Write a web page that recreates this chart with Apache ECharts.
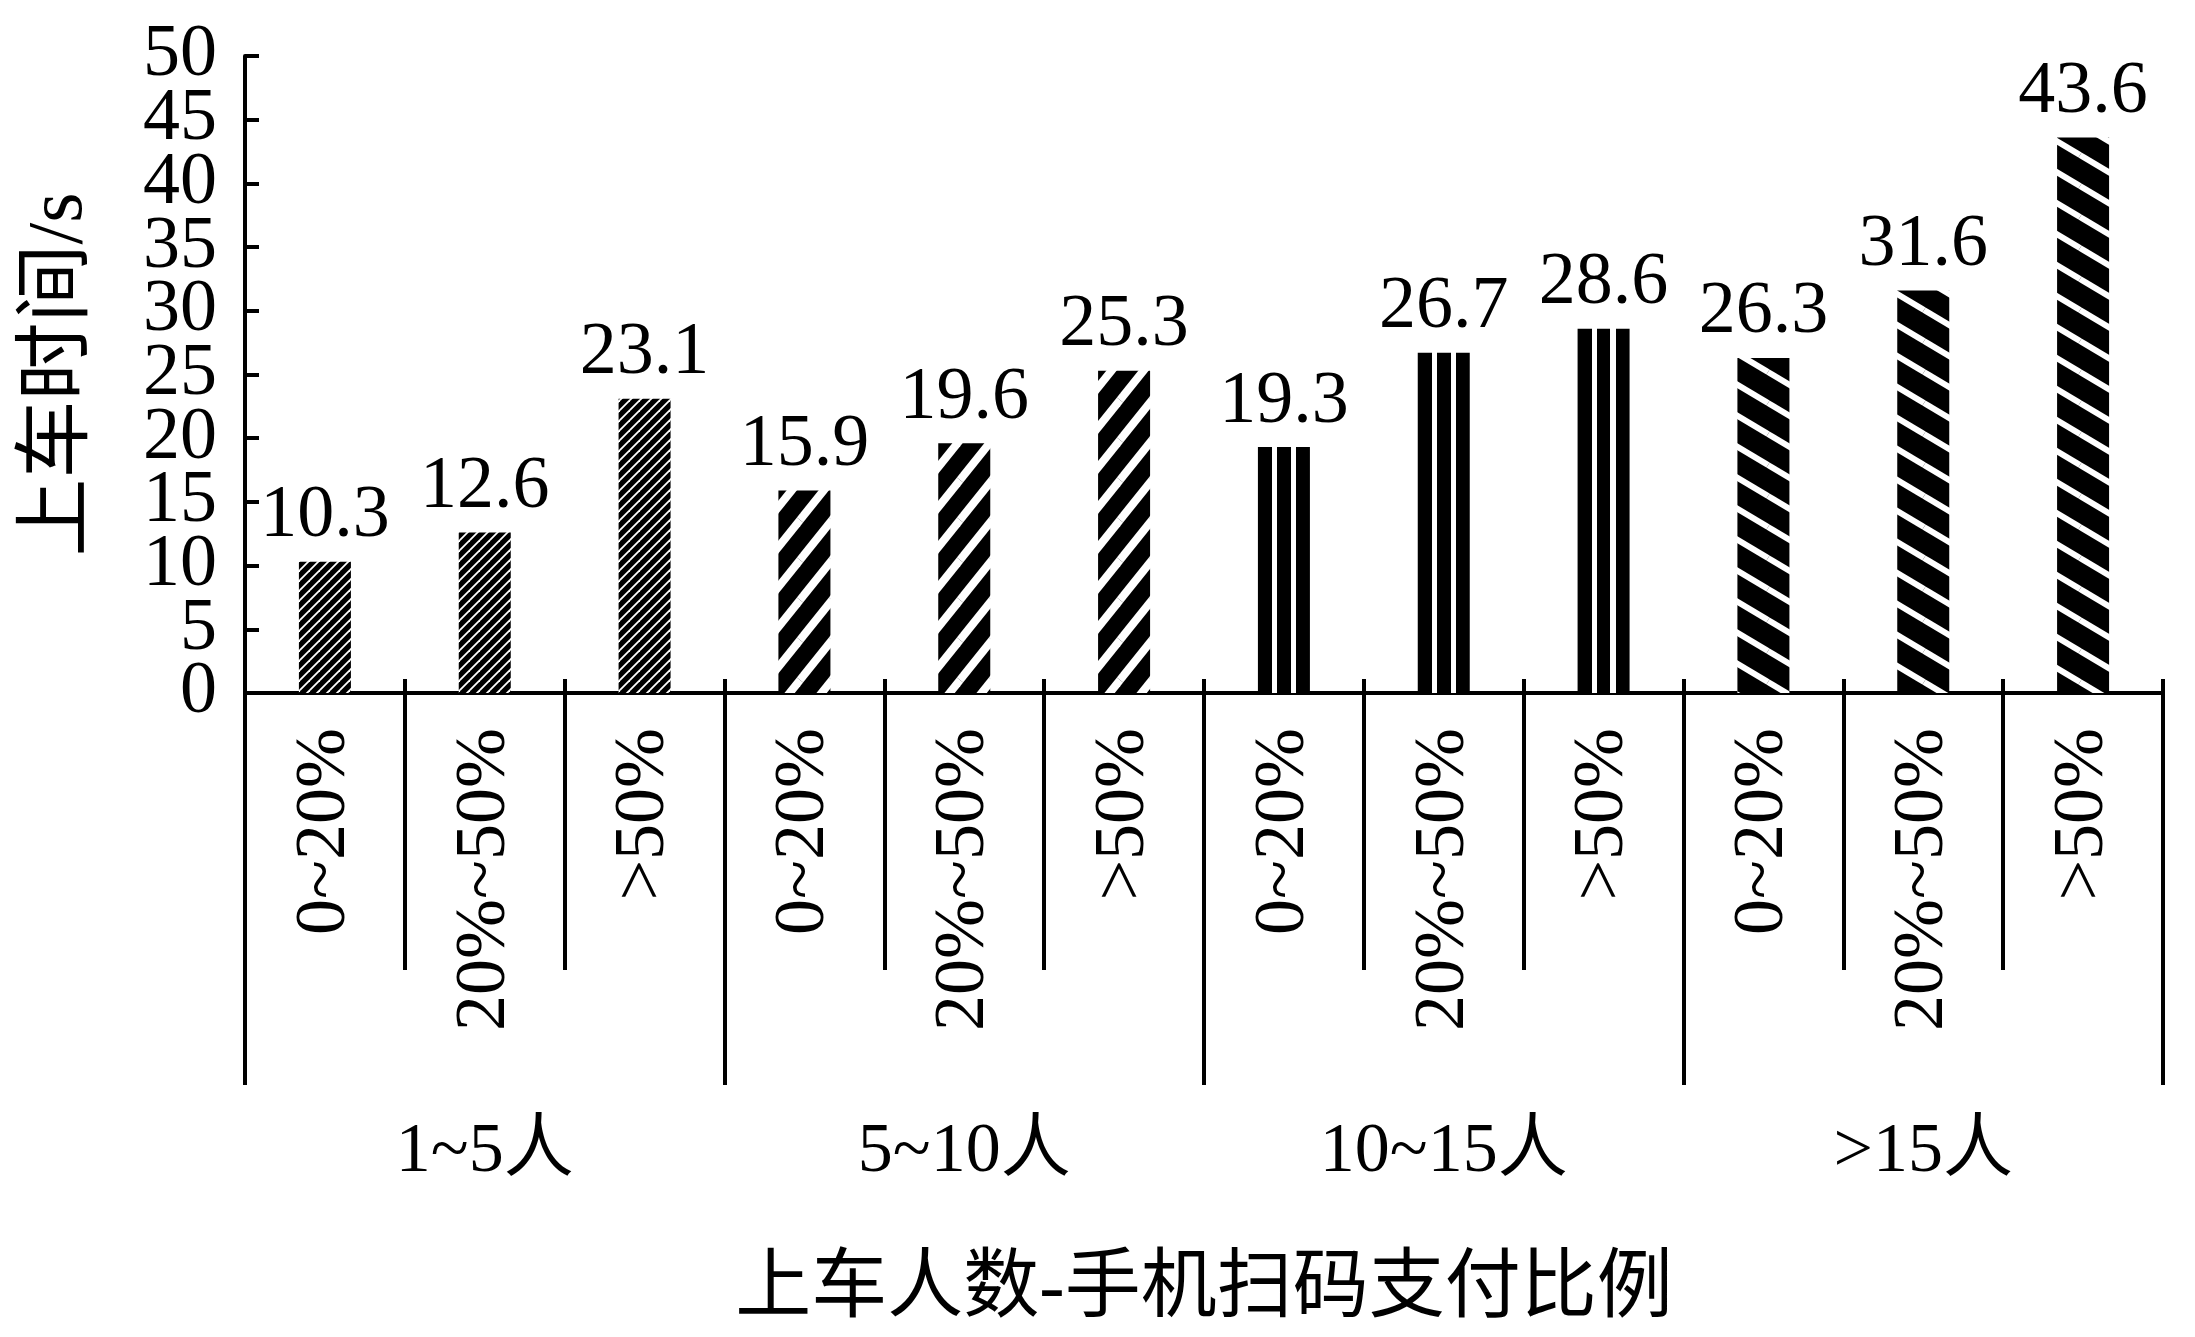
<!DOCTYPE html>
<html>
<head>
<meta charset="utf-8">
<title>上车时间</title>
<script src="https://cdn.jsdelivr.net/npm/echarts@6/dist/echarts.min.js"></script>
<style>
html, body { margin: 0; padding: 0; background: #fff; }
#chart { width: 2195px; height: 1337px; }
</style>
</head>
<body>
<div id="chart"></div>
<script>
// 上车人数分组
const groups = ['1~5人', '5~10人', '10~15人', '>15人'];
// 手机扫码支付比例（每组内）
const payRatios = ['0~20%', '20%~50%', '>50%'];
// 上车时间/s，按分组顺序
const boardTime = [10.3, 12.6, 23.1, 15.9, 19.6, 25.3, 19.3, 26.7, 28.6, 26.3, 31.6, 43.6];
// y轴刻度
const yMin = 0, yMax = 50, yStep = 5;

const font = "'Liberation Serif', 'Noto Sans CJK SC', serif";
const categories = groups.flatMap(() => payRatios);

// 斜线填充 dir>0 为 "/"，否则为 "\"
function stripe(w, h, lineW, dir) {
  const c = document.createElement('canvas');
  c.width = w; c.height = h;
  const ctx = c.getContext('2d');
  ctx.fillStyle = '#000';
  ctx.fillRect(0, 0, w, h);
  ctx.strokeStyle = '#fff';
  ctx.lineWidth = lineW;
  for (let i = -1; i <= 1; i++) {
    for (let j = -1; j <= 1; j++) {
      ctx.beginPath();
      if (dir > 0) { ctx.moveTo(i * w, j * h + h); ctx.lineTo(i * w + w, j * h); }
      else { ctx.moveTo(i * w, j * h); ctx.lineTo(i * w + w, j * h + h); }
      ctx.stroke();
    }
  }
  return { image: c, repeat: 'repeat' };
}

// 竖条纹（跟随柱子本身）
const vStripe = {
  type: 'linear', x: 0, y: 0, x2: 1, y2: 0,
  colorStops: [
    { offset: 0, color: '#000' }, { offset: 0.27, color: '#000' },
    { offset: 0.27, color: '#fff' }, { offset: 0.37, color: '#fff' },
    { offset: 0.37, color: '#000' }, { offset: 0.63, color: '#000' },
    { offset: 0.63, color: '#fff' }, { offset: 0.73, color: '#fff' },
    { offset: 0.73, color: '#000' }, { offset: 1, color: '#000' }
  ]
};

const fills = [
  stripe(10, 10, 1.8, 1),
  stripe(32, 40, 8, 1),
  vStripe,
  stripe(52, 31, 6, -1)
];

const barData = boardTime.map((v, i) => ({
  value: v,
  itemStyle: { color: fills[Math.floor(i / payRatios.length)] }
}));

const line = () => ({ color: '#000', width: 4 });
const yLabel = (fmt) => ({
  margin: 28, color: '#000', fontSize: 74, fontFamily: font,
  showMinLabel: true, showMaxLabel: true, hideOverlap: false,
  formatter: fmt
});

const chart = echarts.init(document.getElementById('chart'));
chart.setOption({
  animation: false,
  backgroundColor: '#fff',
  grid: { left: 245, right: 32, top: 56, bottom: 644 },
  xAxis: [
    {
      type: 'category',
      data: categories,
      axisLine: { show: true, lineStyle: line() },
      axisTick: { show: true, interval: 0, length: 277, lineStyle: line() },
      axisLabel: {
        interval: 0, rotate: 90, margin: 35,
        color: '#000', fontSize: 72, fontFamily: font
      }
    },
    {
      type: 'category',
      data: groups,
      position: 'bottom',
      axisLine: { show: true, lineStyle: line() },
      axisTick: { show: true, interval: 0, length: 392, lineStyle: line() },
      axisLabel: {
        interval: 0, margin: 425,
        color: '#000', fontSize: 70, fontFamily: font
      },
      name: '上车人数-手机扫码支付比例',
      nameLocation: 'middle',
      nameGap: 560,
      nameTextStyle: { color: '#000', fontSize: 76, fontFamily: font }
    },
    {
      // 轴线上方的短刻度
      type: 'category',
      data: categories,
      position: 'bottom',
      axisLine: { show: true, lineStyle: line() },
      axisTick: { show: true, interval: 0, inside: true, length: 14, lineStyle: line() },
      axisLabel: { show: false }
    }
  ],
  yAxis: [
    {
      type: 'value',
      min: yMin, max: yMax, interval: yStep,
      splitLine: { show: false },
      axisLine: { show: true, lineStyle: line() },
      axisTick: { show: true, inside: true, length: 14, lineStyle: line() },
      axisLabel: yLabel(v => (v % 10 === 0 ? String(v) : '')),
      name: '上车时间/s',
      nameLocation: 'middle',
      nameRotate: 90,
      nameGap: 145,
      nameTextStyle: { color: '#000', fontSize: 78, fontFamily: font }
    },
    {
      // 5、15、25… 的刻度文字（避免与相邻文字重叠被隐藏）
      type: 'value',
      position: 'left',
      min: yMin, max: yMax, interval: yStep,
      splitLine: { show: false },
      axisLine: { show: false },
      axisTick: { show: false },
      axisLabel: yLabel(v => (v % 10 === 5 ? String(v) : ''))
    }
  ],
  series: [{
    type: 'bar',
    xAxisIndex: 0,
    yAxisIndex: 0,
    barWidth: 52,
    data: barData,
    label: {
      show: true, position: 'top', distance: 8,
      color: '#000', fontSize: 74, fontFamily: font
    }
  }]
});
</script>
</body>
</html>
